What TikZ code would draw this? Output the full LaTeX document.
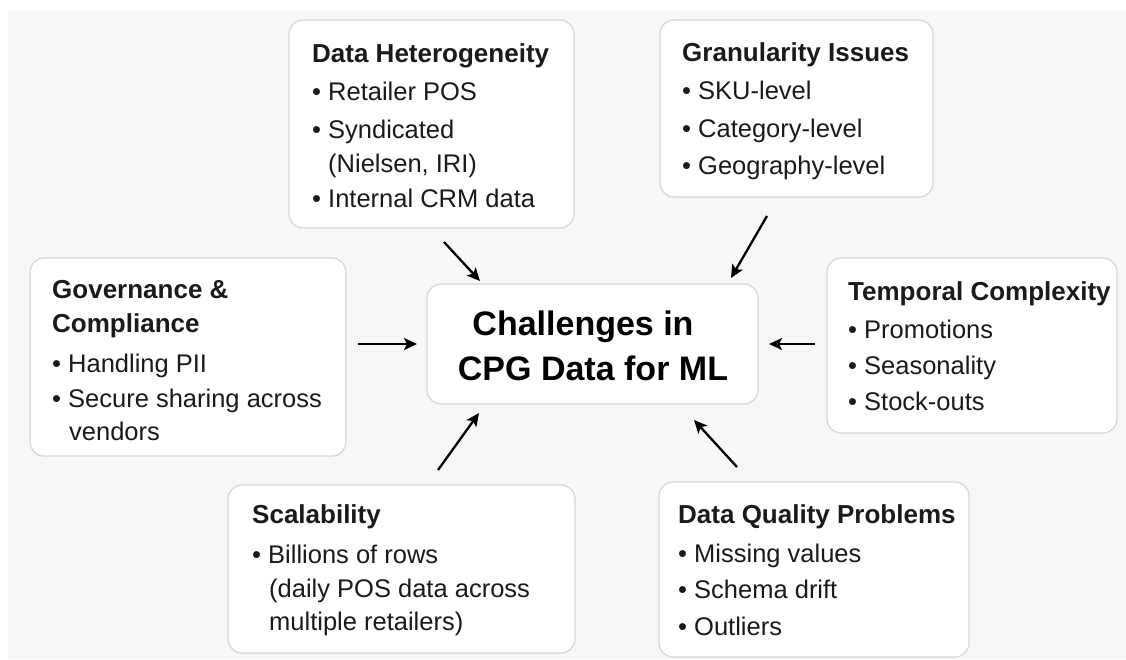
\documentclass[tikz,border=0pt]{standalone}
\usepackage{fontspec}
\setmainfont{Liberation Sans}
\usetikzlibrary{arrows.meta}
\definecolor{panel}{HTML}{F7F7F7}
\definecolor{edge}{HTML}{D6D6D6}
\definecolor{ink}{HTML}{1A1A1A}
\begin{document}
\begin{tikzpicture}[x=1pt,y=-1pt,
  box/.style={draw=edge, line width=1.2pt, fill=white, rounded corners=14pt, inner sep=0pt},
  head/.style={anchor=base west, inner sep=0pt, text=ink, font=\fontsize{26}{30}\selectfont\bfseries},
  item/.style={anchor=base west, inner sep=0pt, text=ink, font=\fontsize{25.5}{30}\selectfont},
  title/.style={anchor=base, inner sep=0pt, text=black, font=\fontsize{34}{40}\selectfont\bfseries},
  arr/.style={-{Stealth[length=13pt,width=12pt,inset=3pt]}, line width=2.3pt, black}]
\useasboundingbox (0,0) rectangle (1126,659);
\fill[white] (0,0) rectangle (1126,659);
\fill[panel] (8,11) rectangle (1126,659);

% boxes
\node[box, minimum width=285pt, minimum height=208pt] (dh) at (431.5,124) {};
\node[box, minimum width=273pt, minimum height=177pt] (gr) at (796.5,108.5) {};
\node[box, minimum width=316pt, minimum height=198pt] (gov) at (188,357) {};
\node[box, minimum width=331pt, minimum height=120pt] (ctr) at (592.5,344) {};
\node[box, minimum width=290pt, minimum height=175pt] (tmp) at (972,345.5) {};
\node[box, minimum width=347pt, minimum height=168pt] (scl) at (401.5,569) {};
\node[box, minimum width=310pt, minimum height=175pt] (dq) at (814,569.5) {};

% center title
\node[title] (t1) at (583,335) {Challenges in};
\node[title] (t2) at (593,380) {CPG Data for ML};

% Data Heterogeneity
\node[head] (dh0) at (312,62) {Data Heterogeneity};
\node[item] (dh1) at (312,100) {• Retailer POS};
\node[item] (dh2) at (312,138) {• Syndicated};
\node[item] (dh3) at (328,172) {(Nielsen, IRI)};
\node[item] (dh4) at (312,207) {• Internal CRM data};

% Granularity
\node[head] (gr0) at (682,61) {Granularity Issues};
\node[item] (gr1) at (682,99) {• SKU-level};
\node[item] (gr2) at (682,137) {• Category-level};
\node[item] (gr3) at (682,174) {• Geography-level};

% Governance
\node[head] (gv0) at (52,298) {Governance \&};
\node[head] (gv1) at (52,332) {Compliance};
\node[item] (gv2) at (52,372) {• Handling PII};
\node[item] (gv3) at (52,407) {• Secure sharing across};
\node[item] (gv4) at (69,440) {vendors};

% Temporal
\node[head] (tc0) at (848,300) {Temporal Complexity};
\node[item] (tc1) at (848,338) {• Promotions};
\node[item] (tc2) at (848,374) {• Seasonality};
\node[item] (tc3) at (848,410) {• Stock-outs};

% Scalability
\node[head] (sc0) at (252,523) {Scalability};
\node[item] (sc1) at (252,563) {• Billions of rows};
\node[item] (sc2) at (269,597) {(daily POS data across};
\node[item] (sc3) at (269,630) {multiple retailers)};

% Data Quality
\node[head] (dq0) at (678,523) {Data Quality Problems};
\node[item] (dq1) at (678,562) {• Missing values};
\node[item] (dq2) at (678,598) {• Schema drift};
\node[item] (dq3) at (678,635) {• Outliers};

% arrow ends
\coordinate (a1s) at (444,242); \coordinate (a1e) at (480,281);
\coordinate (a2s) at (767,216); \coordinate (a2e) at (731,278);
\coordinate (a3s) at (358,344); \coordinate (a3e) at (417,344);
\coordinate (a4s) at (815,344); \coordinate (a4e) at (769,344);
\coordinate (a5s) at (438,470); \coordinate (a5e) at (479,413);
\coordinate (a6s) at (737,467); \coordinate (a6e) at (694,420);
\draw[arr] (a1s) -- (a1e);
\draw[arr] (a2s) -- (a2e);
\draw[arr] (a3s) -- (a3e);
\draw[arr] (a4s) -- (a4e);
\draw[arr] (a5s) -- (a5e);
\draw[arr] (a6s) -- (a6e);
\end{tikzpicture}
\end{document}
